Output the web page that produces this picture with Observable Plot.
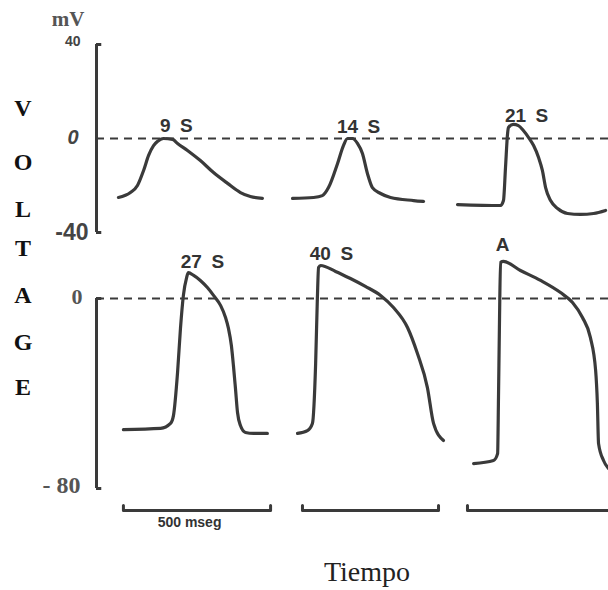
<!DOCTYPE html>
<html><head><meta charset="utf-8">
<script src="https://cdn.jsdelivr.net/npm/d3@7"></script>
<script src="https://cdn.jsdelivr.net/npm/@observablehq/plot@0.6"></script>
<style>
body{margin:0;background:#fff;}
#wrap{position:relative;width:608px;height:590px;background:#fff;overflow:hidden;}
.abs{position:absolute;line-height:1;white-space:nowrap;transform:translateX(-50%);}
#wrap svg{position:absolute;left:0;overflow:visible;background:transparent;}
</style></head><body><div id="wrap"></div>
<script>
// ---------- DATA (time in ms, voltage in mV) ----------
const topNames = ["9 S", "14 S", "21 S"];
const bottomNames = ["27 S", "40 S", "A"];

const t9S  = [75,116,140,161,178,195,208,229,260,277,311,355,400,448,492,526,567];
const v9S  = [-25.1,-23.0,-20.0,-13.6,-7.2,-3.0,-1.3,0,-0.4,-2.1,-5.1,-9.4,-14.5,-19.1,-23.0,-24.7,-25.5];
const t14S = [670,742,772,793,824,844,858,875,892,909,926,943,971,1005,1084,1118];
const v14S = [-25.5,-25.1,-24.3,-20.9,-10.6,-3.0,0,0,-2.1,-6.4,-14.9,-20.9,-23.4,-25.1,-26.4,-26.8];
const t21S = [1234,1381,1391,1398,1405,1408,1425,1442,1459,1477,1494,1511,1524,1535,1552,1576,1610,1654,1699,1740];
const v21S = [-28.1,-28.5,-26.4,-12.3,2.1,4.7,6.0,5.5,3.4,0.4,-3.0,-8.1,-13.6,-20.9,-26.4,-29.8,-31.9,-32.3,-31.9,-30.6];

const t27S = [92,219,253,263,277,287,297,308,314,332,355,379,400,424,441,451,461,468,475,482,492,509,537,584];
const v27S = [-55.2,-54.7,-52.6,-49.3,-31.2,-12.6,1.3,8.8,10.9,9.7,7.6,4.6,1.3,-2.9,-8.0,-12.6,-19.8,-28.2,-37.9,-48.0,-53.5,-56.4,-56.8,-56.8];
const t40S = [687,721,738,749,755,759,766,817,868,919,971,1015,1063,1097,1131,1152,1186];
const v40S = [-56.8,-55.6,-52.6,-27.4,0.4,13.1,13.9,11.4,8.4,5.1,1.3,-3.8,-12.2,-23.2,-37.5,-52.6,-59.8];
const tA   = [1289,1357,1371,1374,1377,1381,1391,1449,1518,1586,1627,1661,1688,1706,1712,1716,1733,1750];
const vA   = [-69.5,-68.2,-65.3,-41.7,-13.5,15.2,15.6,11.8,7.6,2.5,-1.7,-8.0,-16.4,-30.3,-44.2,-61.1,-68.2,-71.6];

const topLabelT = [273, 896, 1470];
const topLabelV = [5.3, 5.1, 9.5];
const bottomLabelT = [362, 803, 1388];
const bottomLabelV = [15.6, 18.9, 22.7];

const topTicks = [40, 0, -40];
const bottomTicks = [0, -80];
const scaleBarStart = [92, 704, 1268];
const scaleBarEnd = [595, 1169, 1775];
const scaleBarLabel = "500 mseg";
const unitLabel = "mV";
const yTitle = "VOLTAGE";
const xTitle = "Tiempo";

// ---------- BUILD ----------
const ink = "#3a3a3a";
const W = 608;
const XD = [0, 1750];
const rows = (names, ts, vs) => names.flatMap((n, i) => ts[i].map((t, j) => ({name: n, t, v: vs[i][j]})));
const topRows = rows(topNames, [t9S, t14S, t21S], [v9S, v14S, v21S]);
const bottomRows = rows(bottomNames, [t27S, t40S, tA], [v27S, v40S, vA]);
const topLabels = topNames.map((n, i) => ({name: n, t: topLabelT[i], v: topLabelV[i]}));
const bottomLabels = bottomNames.map((n, i) => ({name: n, t: bottomLabelT[i], v: bottomLabelV[i]}));
const barY = -89.3, barTip = -87.2;
const barRows = scaleBarStart.flatMap((s, i) => [
  {bar: i, t: s, v: barTip}, {bar: i, t: s, v: barY},
  {bar: i, t: scaleBarEnd[i], v: barY}, {bar: i, t: scaleBarEnd[i], v: barTip}
]);
const fmt = d => String(d);
const labelText = d => d.name.replace(" ", "\u2002");
const traceStyle = {x: "t", y: "v", z: "name", curve: "monotone-x", stroke: ink, strokeWidth: 3.2, strokeLinecap: "round", strokeLinejoin: "round"};
const labelStyle = {x: "t", y: "v", text: labelText, fontSize: 19, fontWeight: "bold", fontFamily: "Liberation Sans", fill: "#333"};

const topPlot = Plot.plot({
  width: W, height: 245, marginLeft: 96, marginRight: 0, marginTop: 44, marginBottom: 13,
  x: {domain: XD, axis: null},
  y: {domain: [-40, 40], axis: null},
  style: {background: "transparent", overflow: "visible"},
  marks: [
    Plot.ruleY([0], {x1: 0, x2: XD[1], stroke: ink, strokeWidth: 2, strokeDasharray: "8,6"}),
    Plot.ruleX([0], {y1: topTicks[2], y2: topTicks[0], stroke: ink, strokeWidth: 3}),
    Plot.ruleY([topTicks[0], topTicks[2]], {x1: 0, x2: 18, stroke: ink, strokeWidth: 3}),
    Plot.line(topRows, traceStyle),
    Plot.text(topLabels, labelStyle),
    Plot.axisY([topTicks[0]], {anchor: "left", tickSize: 0, tickPadding: 16, dy: -3, fontSize: 14, fontWeight: "bold", fontFamily: "Liberation Sans", color: "#444", tickFormat: fmt, label: null}),
    Plot.axisY([topTicks[1]], {anchor: "left", tickSize: 0, tickPadding: 18, dy: -1, fontSize: 20, fontWeight: "bold", fontStyle: "italic", fontFamily: "Liberation Sans", color: "#444", tickFormat: fmt, label: null}),
    Plot.axisY([topTicks[2]], {anchor: "left", tickSize: 0, tickPadding: 8, fontSize: 23, fontWeight: "bold", fontFamily: "Liberation Sans", color: "#444", tickFormat: fmt, label: null})
  ]
});

const bottomPlot = Plot.plot({
  width: W, height: 302, marginLeft: 96, marginRight: 0, marginTop: 60, marginBottom: 52,
  x: {domain: XD, axis: null},
  y: {domain: [-80, 0], axis: null},
  style: {background: "transparent", overflow: "visible"},
  marks: [
    Plot.ruleY([0], {x1: 0, x2: XD[1], stroke: ink, strokeWidth: 2, strokeDasharray: "8,6"}),
    Plot.ruleX([0], {y1: bottomTicks[1], y2: bottomTicks[0], stroke: ink, strokeWidth: 3}),
    Plot.ruleY(bottomTicks, {x1: 0, x2: 18, stroke: ink, strokeWidth: 3}),
    Plot.line(bottomRows, traceStyle),
    Plot.text(bottomLabels, labelStyle),
    Plot.line(barRows, {x: "t", y: "v", z: "bar", stroke: ink, strokeWidth: 3, strokeLinecap: "round", strokeLinejoin: "round"}),
    Plot.text([scaleBarLabel], {x: 318, y: -94.3, text: d => d, fontSize: 14, fontWeight: "bold", fontFamily: "Liberation Sans", fill: "#333"}),
    Plot.axisY([bottomTicks[0]], {anchor: "left", tickSize: 0, tickPadding: 14, dy: -2, fontSize: 22, fontWeight: "bold", fontFamily: "Liberation Serif", color: "#555", tickFormat: fmt, label: null}),
    Plot.axisY([bottomTicks[1]], {anchor: "left", tickSize: 0, tickPadding: 16, dy: -3, fontSize: 24, fontWeight: "bold", fontFamily: "Liberation Serif", color: "#555", tickFormat: d => String(d).replace("-", "- "), label: null})
  ]
});

const wrap = document.getElementById("wrap");
topPlot.style.top = "0px";
bottomPlot.style.top = "238px";
wrap.appendChild(topPlot);
wrap.appendChild(bottomPlot);

function addText(txt, cx, top, css) {
  const d = document.createElement("div");
  d.className = "abs";
  d.textContent = txt;
  d.style.left = cx + "px";
  d.style.top = top + "px";
  Object.assign(d.style, css);
  wrap.appendChild(d);
}
addText(unitLabel, 68, 9, {fontFamily: "Liberation Serif", fontWeight: "bold", fontSize: "21px", color: "#555"});
const letterCenters = [108, 162, 209, 248, 295, 342, 387];
yTitle.split("").forEach((ch, i) => addText(ch, 23, letterCenters[i] - 12, {fontFamily: "Liberation Serif", fontWeight: "bold", fontSize: "24px", color: "#111"}));
addText(xTitle, 367, 558, {fontFamily: "Liberation Serif", fontSize: "28px", color: "#222"});
</script></body></html>
